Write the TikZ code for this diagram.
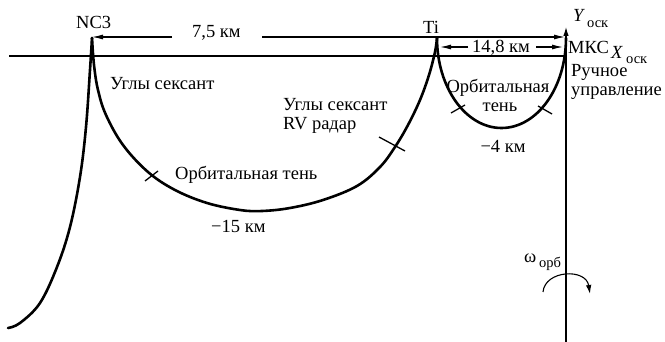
\documentclass[tikz,border=0pt]{standalone}
\usepackage{fontspec}
\setmainfont{LiberationSerif}[Extension=.ttf,UprightFont=*-Regular,ItalicFont=*-Italic,BoldFont=*-Bold]
\usetikzlibrary{arrows.meta}
\begin{document}
\begin{tikzpicture}[x=1pt,y=-1pt,
  lbl/.style={anchor=base west,inner sep=0pt,font=\fontsize{18.5}{20}\selectfont},
  sub/.style={anchor=base west,inner sep=0pt,font=\fontsize{14.5}{15}\selectfont},
  thinln/.style={line width=1.1pt},
  traj/.style={line width=2.6pt,line join=round,line cap=round},
  tickln/.style={line width=1.3pt},
  tipR/.style={-{Latex[length=11pt,width=5pt]}},
  tipS/.style={-{Latex[length=9pt,width=5.5pt]}}]
\useasboundingbox (0,0) rectangle (665,342);
% key points
\coordinate (nc3p) at (92,37);
\coordinate (tip)  at (437,37);
\coordinate (mks)  at (566,37);
\coordinate (topR) at (565,37);
\coordinate (g1)   at (172,37);
\coordinate (g2)   at (262,37);
\coordinate (a1)   at (440,47);
\coordinate (a2)   at (563,47);
\coordinate (h1)   at (468,47);
\coordinate (h2)   at (536,47);
\coordinate (xl)   at (9,56);
\coordinate (xr)   at (566,56);
\coordinate (yb)   at (566,342);
\coordinate (yt)   at (566,27);
% axes and distance lines
\draw[thinln] (xl) -- (xr);
\draw[thinln,tipS] (yb) -- (yt);
\draw[thinln,tipR] (g1) -- (nc3p);
\draw[thinln,tipR] (g2) -- (topR);
\draw[thinln,tipR] (h1) -- (a1);
\draw[thinln,tipR] (h2) -- (a2);
% trajectory
\draw[traj] plot[smooth,tension=0.6] coordinates {(8,328)(20,323)(40,303)(57,267)(70,227)(80,177)(86,127)(90,70)(92,38)};
\draw[traj] plot[smooth,tension=0.6] coordinates {(92,38)(94,65)(98,90)(106,115)(123,145)(148,172)(175,190)(207,203)(240,210)(262,211)(290,208)(323,200)(357,186)(380,167)(395,147)(408,125)(420,100)(429,75)(435,52)(437,38)};
\draw[traj] (tip) ++(0,1) arc[start angle=180,end angle=0,x radius=64.5,y radius=90];
% ticks
\coordinate (t1a) at (145,181); \coordinate (t1b) at (158,171);
\coordinate (t2a) at (379,137); \coordinate (t2b) at (405,151);
\coordinate (t3a) at (451,113); \coordinate (t3b) at (465,105);
\coordinate (t4a) at (538,106); \coordinate (t4b) at (552,114);
\draw[tickln] (t1a) -- (t1b);
\draw[tickln] (t2a) -- (t2b);
\draw[tickln] (t3a) -- (t3b);
\draw[tickln] (t4a) -- (t4b);
% rotation arrow
\coordinate (r1) at (543,292);
\coordinate (r2) at (590,294);
\draw[thinln,tipS] (r1) .. controls (545,270) and (586,268) .. (r2);
% labels
\node[lbl] (nc3) at (76,29) {NC3};
\node[lbl] (d75) at (192,38) {7,5 км};
\node[lbl] (ti) at (423,34) {Ti};
\node[lbl] (d148) at (472,53) {14,8 км};
\node[lbl] (ylab) at (573,22) {\itshape Y};
\node[sub] (ysub) at (587,28) {оск};
\node[lbl] (mkslab) at (568,54) {МКС};
\node[lbl] (xlab) at (611,59) {\itshape X};
\node[sub] (xsub) at (626,64) {оск};
\node[lbl] (ruch) at (571,77) {Ручное};
\node[lbl] (upr) at (571,96) {управление};
\node[lbl] (us1) at (110,90) {Углы сексант};
\node[lbl] (us2) at (283,111) {Углы сексант};
\node[lbl] (rv) at (283,130) {RV радар};
\node[lbl] (ot1) at (175,180) {Орбитальная тень};
\node[lbl] (km15) at (211,233) {−15 км};
\node[lbl,anchor=base] (ot2) at (498,93) {Орбитальная};
\node[lbl,anchor=base] (ot3) at (500,112) {тень};
\node[lbl,anchor=base] (km4) at (503,153) {−4 км};
\node[lbl] (om) at (524,263) {ω};
\node[sub] (omsub) at (539,268) {орб};
\end{tikzpicture}
\end{document}
